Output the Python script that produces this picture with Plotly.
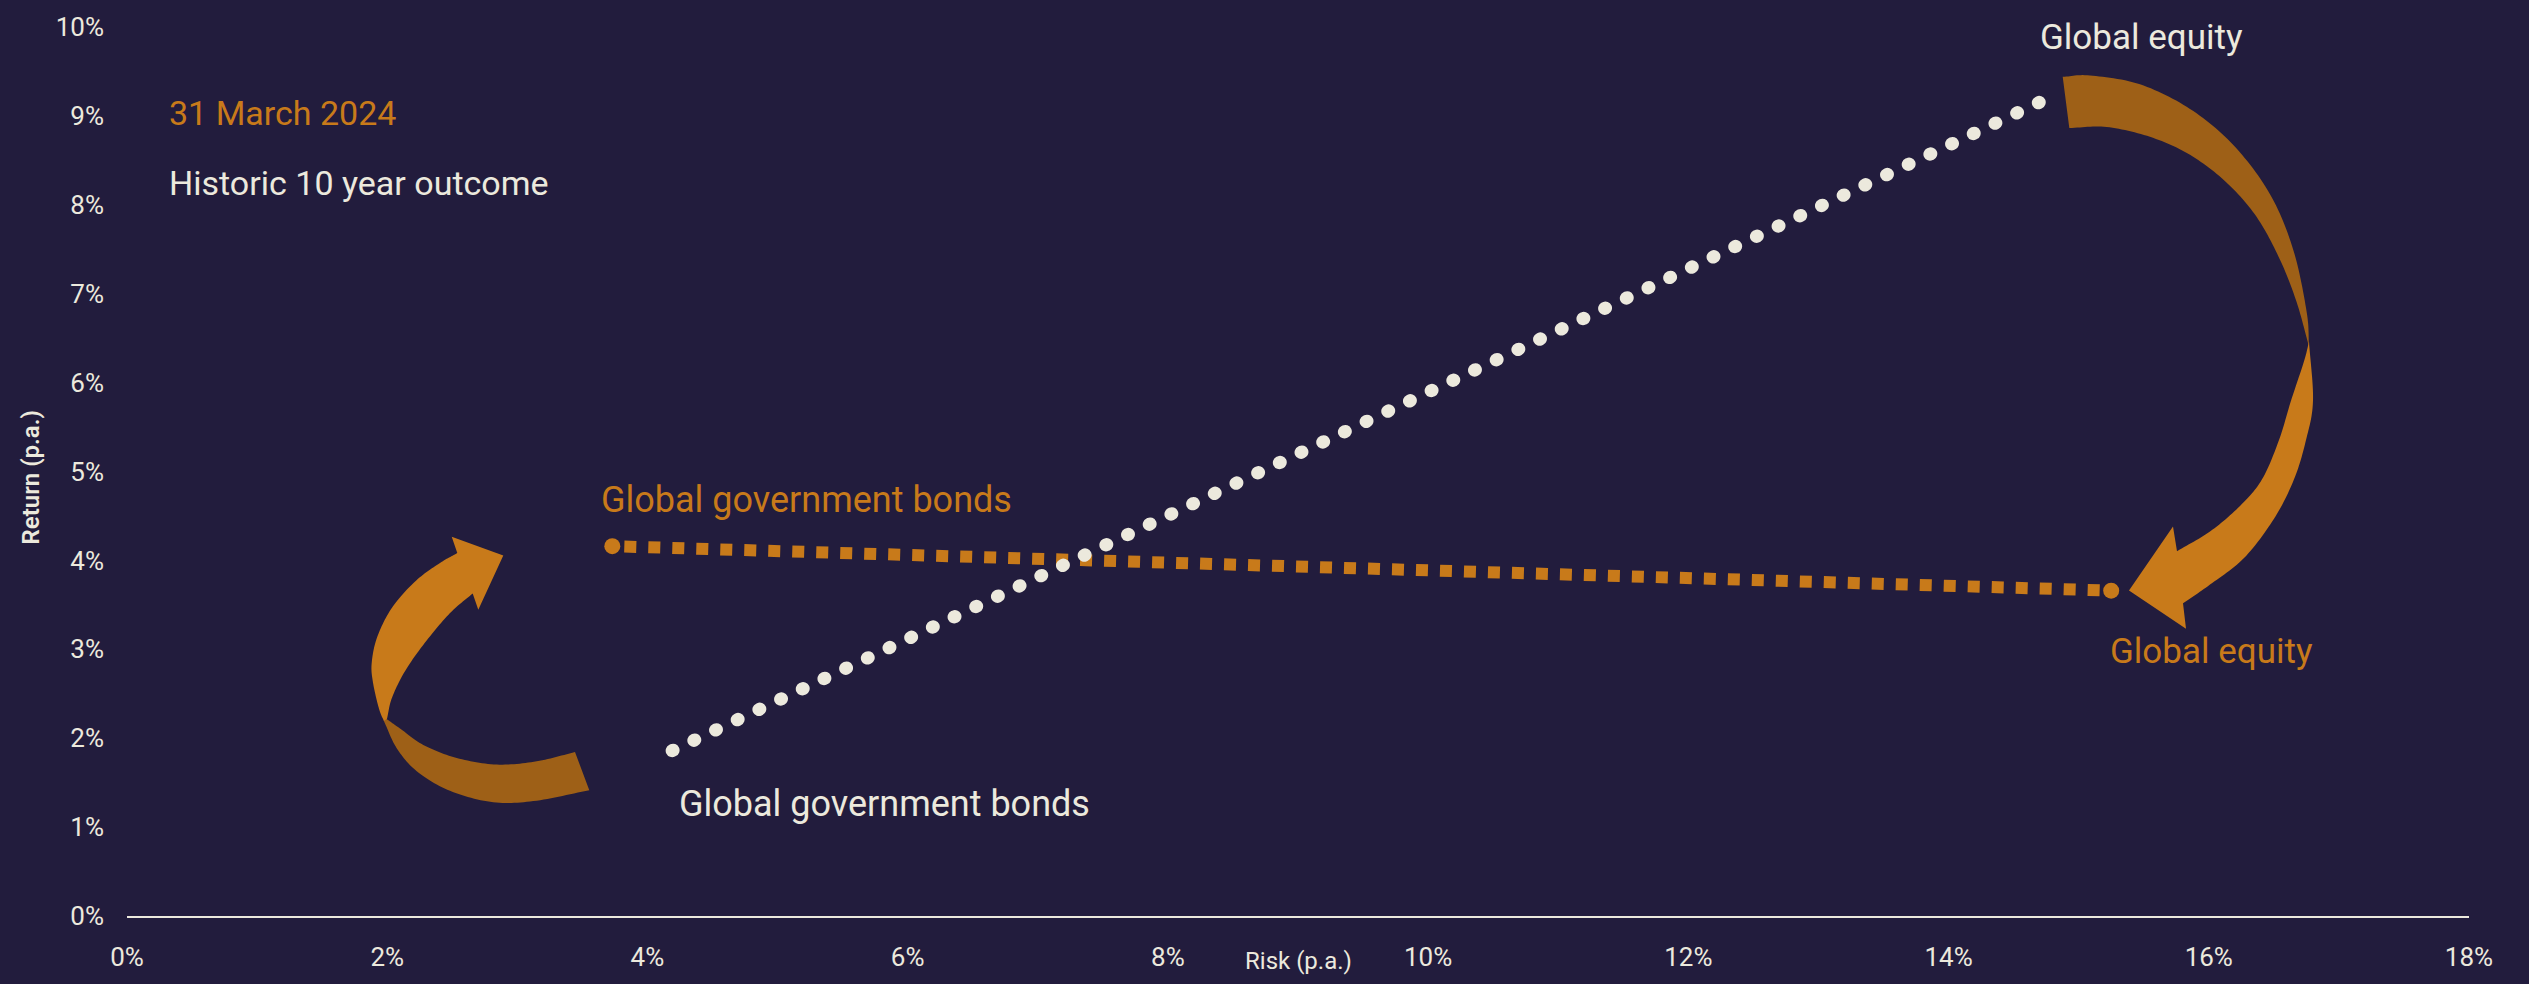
import numpy as np
import plotly.graph_objects as go

# ---------------- data ----------------
categories = ["Global government bonds", "Global equity"]
risk_historic = [4.19, 14.78]      # Historic 10 year outcome (risk % p.a.)
return_historic = [1.86, 9.21]     # Historic 10 year outcome (return % p.a.)
risk_current = [3.73, 15.25]       # 31 March 2024 (risk % p.a.)
return_current = [4.16, 3.66]      # 31 March 2024 (return % p.a.)

x_tick_values = [0, 2, 4, 6, 8, 10, 12, 14, 16, 18]
x_tick_labels = ["0%", "2%", "4%", "6%", "8%", "10%", "12%", "14%", "16%", "18%"]
y_tick_values = [0, 1, 2, 3, 4, 5, 6, 7, 8, 9, 10]
y_tick_labels = ["0%", "1%", "2%", "3%", "4%", "5%", "6%", "7%", "8%", "9%", "10%"]

series_current_name = "31 March 2024"
series_historic_name = "Historic 10 year outcome"

# ---------------- style ----------------
BG = "#221C3D"
CREAM = "#ECE9DD"
ORANGE = "#C87A1A"
DARK = "#9E6017"
FONT = "Roboto"

W, H = 2529, 984
ML, MR, MT, MB = 127, 60, 20, 60
X_RANGE = (0, 18)
Y_RANGE = (0, 10)
PW = W - ML - MR
PH = H - MT - MB


def to_data(px, py):
    x = X_RANGE[0] + (px - ML) / PW * (X_RANGE[1] - X_RANGE[0])
    y = Y_RANGE[0] + (MT + PH - py) / PH * (Y_RANGE[1] - Y_RANGE[0])
    return x, y


def catmull(points, n=14):
    pts = np.array(points, float)
    if len(pts) < 3:
        return pts
    P = np.vstack([pts[0] * 2 - pts[1], pts, pts[-1] * 2 - pts[-2]])
    out = []
    for i in range(1, len(P) - 2):
        p0, p1, p2, p3 = P[i - 1], P[i], P[i + 1], P[i + 2]
        for t in np.linspace(0, 1, n, endpoint=False):
            t2 = t * t
            t3 = t2 * t
            out.append(0.5 * ((2 * p1) + (-p0 + p2) * t
                              + (2 * p0 - 5 * p1 + 4 * p2 - p3) * t2
                              + (-p0 + 3 * p1 - 3 * p2 + p3) * t3))
    out.append(P[-2])
    return np.array(out)


def ribbon_path(segments):
    pts = []
    for seg, smooth in segments:
        s = catmull(seg) if smooth else np.array(seg, float)
        pts.extend(s.tolist())
    parts = []
    for i, (px, py) in enumerate(pts):
        x, y = to_data(px, py)
        parts.append(("M" if i == 0 else "L") + f"{x:.4f},{y:.4f}")
    return " ".join(parts) + " Z"


# decorative curved ribbon arrows (outline in plot pixel space)
right_back = ribbon_path([
    ([(2062.7, 70.7), (2090, 69.3), (2140, 78.3), (2190, 103.3), (2233.3, 140),
      (2270, 190), (2293.3, 246.7), (2306.7, 310), (2309, 345)], True),
    ([(2309, 345), (2296.7, 300), (2280, 256.7), (2256.7, 213.3), (2226.7, 178.3),
      (2190, 150), (2150, 131.7), (2106.7, 121.7), (2069.3, 122.7)], True),
])
right_front = ribbon_path([
    ([(2309, 340), (2313, 400), (2306, 440), (2294, 480), (2274, 520), (2244, 560),
      (2210, 587), (2183, 606)], True),
    ([(2186, 632), (2129, 593), (2173, 528)], False),
    ([(2177, 553), (2210, 533), (2240, 507), (2262, 480), (2279, 440), (2291, 400),
      (2304, 360), (2309, 340)], True),
])
left_front = ribbon_path([
    ([(503.3, 557.3), (478.3, 612.7)], False),
    ([(472.7, 596), (450, 616), (425, 646), (405, 675), (392, 702),
      (387, 723.3)], True),
    ([(384, 726), (379, 713.3), (373, 686.7), (371.7, 666.7), (377.3, 640),
      (392.3, 610), (416, 583), (440, 565), (457.3, 555)], True),
    ([(451.7, 538.3)], False),
])
left_back = ribbon_path([
    ([(384, 726), (396.7, 753.3), (416.7, 776.7), (450, 796.7), (493.3, 808.3),
      (536.7, 806.7), (589.3, 796)], True),
    ([(575, 757.3), (536.7, 766.7), (496.7, 770), (456.7, 763.3), (423.3, 750),
      (400, 733.3), (386, 723.3)], True),
])

fig = go.Figure()

fig.add_trace(go.Scatter(
    x=risk_current, y=return_current, name=series_current_name,
    mode="lines+markers",
    line=dict(color=ORANGE, width=12, dash="0px,12px,12px,0px"),
    marker=dict(color=ORANGE, size=16, line=dict(width=0)),
    hoverinfo="skip",
))
fig.add_trace(go.Scatter(
    x=risk_historic, y=return_historic, name=series_historic_name,
    mode="lines",
    line=dict(color=CREAM, width=13, dash="1px,23px"),
    hoverinfo="skip",
))

shapes = []
for path, col in [(right_back, DARK), (right_front, ORANGE),
                  (left_back, DARK), (left_front, ORANGE)]:
    shapes.append(dict(type="path", path=path, xref="x", yref="y",
                       fillcolor=col, line=dict(width=0), layer="below"))

annotations = [
    dict(x=15.48, y=9.88, text=categories[1], font=dict(color=CREAM, size=35)),
    dict(x=16.02, y=2.97, text=categories[1], font=dict(color=ORANGE, size=35)),
    dict(x=5.22, y=4.68, text=categories[0], font=dict(color=ORANGE, size=36)),
    dict(x=5.82, y=1.26, text=categories[0], font=dict(color=CREAM, size=36)),
    dict(x=0.31, y=9.03, text=series_current_name, xanchor="left",
         font=dict(color=ORANGE, size=34)),
    dict(x=0.31, y=8.25, text=series_historic_name, xanchor="left",
         font=dict(color=CREAM, size=34)),
]
for a in annotations:
    a.setdefault("xanchor", "center")
    a.update(xref="x", yref="y", yanchor="middle", showarrow=False)
    a["font"]["family"] = FONT

annotations.append(dict(
    xref="paper", yref="paper", x=-0.0411, y=0.493, text="Return (p.a.)",
    textangle=-90, showarrow=False, xanchor="center", yanchor="middle",
    font=dict(family=FONT, size=24, color=CREAM, weight=600)))
annotations.append(dict(
    xref="paper", yref="paper", x=0.5, y=-0.0504, text="Risk (p.a.)",
    showarrow=False, xanchor="center", yanchor="middle",
    font=dict(family=FONT, size=24, color=CREAM)))

fig.update_layout(
    width=W, height=H, autosize=False,
    margin=dict(l=ML, r=MR, t=MT, b=MB, pad=0),
    paper_bgcolor=BG, plot_bgcolor=BG,
    showlegend=False,
    font=dict(family=FONT, color=CREAM, size=24),
    shapes=shapes, annotations=annotations,
    hovermode=False,
    xaxis=dict(range=list(X_RANGE), tickvals=x_tick_values, ticktext=x_tick_labels,
               showgrid=False, zeroline=False, showline=True, linecolor=CREAM,
               linewidth=2, ticks="", ticklabelstandoff=17,
               tickfont=dict(family=FONT, size=26, color=CREAM), fixedrange=True),
    yaxis=dict(range=list(Y_RANGE), tickvals=y_tick_values, ticktext=y_tick_labels,
               showgrid=False, zeroline=False, showline=False, ticks="",
               ticklabelstandoff=22,
               tickfont=dict(family=FONT, size=26, color=CREAM), fixedrange=True),
)

post = """
var gd = document.getElementById('{plot_id}');
var tr = gd.querySelectorAll('.scatterlayer .trace');
if (tr.length > 1) {
  var p = tr[1].querySelectorAll('path.js-line');
  p.forEach(function(el){ el.style.strokeLinecap = 'round'; });
}
"""

fig.write_html("out.html", config={"displayModeBar": False, "staticPlot": True},
               post_script=post)
